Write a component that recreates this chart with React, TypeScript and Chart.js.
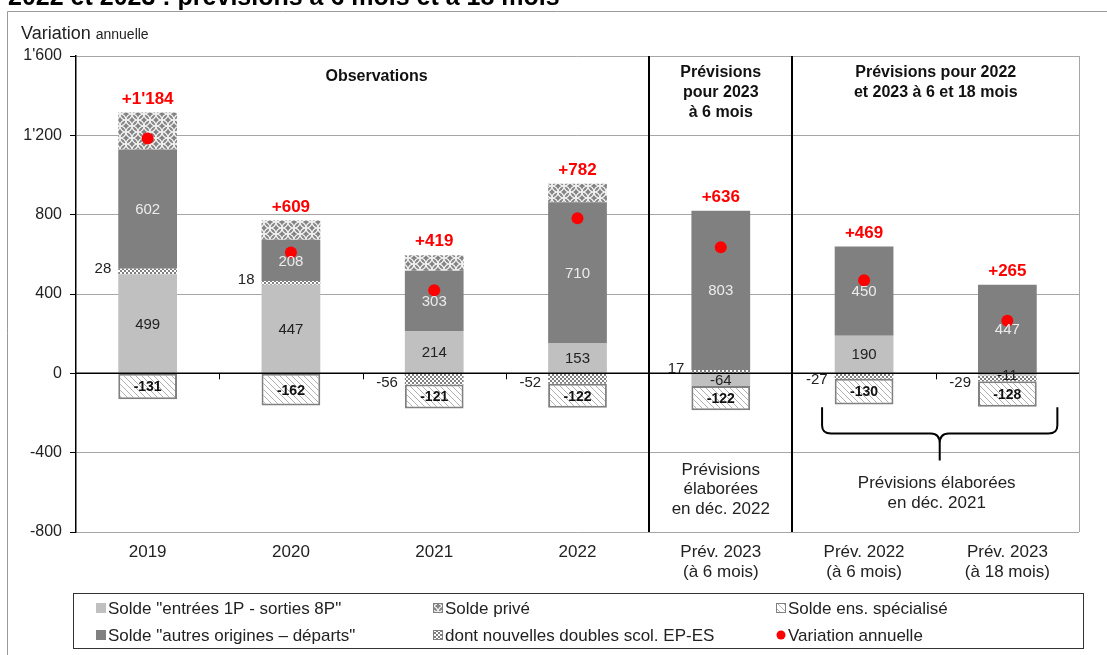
import React, { useEffect, useRef } from 'react';
import { Chart, registerables } from 'chart.js';
Chart.register(...registerables);

const FONT = "'Liberation Sans', Arial, sans-serif";

const categories = [
  '2019',
  '2020',
  '2021',
  '2022',
  ['Prév. 2023', '(à 6 mois)'],
  ['Prév. 2022', '(à 6 mois)'],
  ['Prév. 2023', '(à 18 mois)'],
];

const entrees = [499, 447, 214, 153, -64, 190, -11];
const doubles = [28, 18, -56, -52, 17, -27, -29];
const autres = [602, 208, 303, 710, 803, 450, 447];
const prive = [186, 98, 79, 93, 0, 0, 0];
const specialise = [-131, -162, -121, -122, -122, -130, -128];
const variation = [1184, 609, 419, 782, 636, 469, 265];

const yTicks = [1600, 1200, 800, 400, 0, -400, -800];

const labelEntrees = 'Solde "entrées 1P - sorties 8P"';
const labelAutres = 'Solde "autres origines – départs"';
const labelPrive = 'Solde privé';
const labelDoubles = 'dont nouvelles doubles scol. EP-ES';
const labelSpecialise = 'Solde ens. spécialisé';
const labelVariation = 'Variation annuelle';

const title = '2022 et 2023 : prévisions à 6 mois et à 18 mois';

function fmt(v: number): string {
  const a = Math.abs(Math.round(v));
  const s = a >= 1000 ? Math.floor(a / 1000) + "'" + String(a % 1000).padStart(3, '0') : String(a);
  return (v < 0 ? '-' : '') + s;
}

export default function App() {
  const ref = useRef<HTMLCanvasElement>(null);

  useEffect(() => {
    const canvas = ref.current!;
    const mainCtx = canvas.getContext('2d')!;
    const makePat = (w: number, h: number, draw: (g: CanvasRenderingContext2D) => void) => {
      const c = document.createElement('canvas');
      c.width = w;
      c.height = h;
      const g = c.getContext('2d')!;
      draw(g);
      return mainCtx.createPattern(c, 'repeat')!;
    };

    const privePat = makePat(12, 12, (g) => {
      g.fillStyle = '#858585';
      g.fillRect(0, 0, 12, 12);
      g.strokeStyle = '#F4F4F4';
      g.lineWidth = 1.2;
      const centers = [[0, 0], [12, 0], [0, 12], [12, 12], [6, 6]];
      for (const [cx, cy] of centers) {
        g.beginPath();
        g.arc(cx, cy, 6, 0, Math.PI * 2);
        g.stroke();
      }
    });
    const doublesPat = makePat(4, 4, (g) => {
      g.fillStyle = '#808080';
      g.fillRect(0, 0, 4, 4);
      g.fillStyle = '#FFFFFF';
      g.fillRect(0, 0, 2, 2);
      g.fillRect(2, 2, 2, 2);
    });
    const specPat = makePat(6, 6, (g) => {
      g.fillStyle = '#FFFFFF';
      g.fillRect(0, 0, 6, 6);
      g.strokeStyle = '#B0B0B0';
      g.lineWidth = 1;
      g.beginPath();
      g.moveTo(-1, -1); g.lineTo(7, 7);
      g.moveTo(-1, 5); g.lineTo(1, 7);
      g.moveTo(5, -1); g.lineTo(7, 1);
      g.stroke();
    });

    const overlay = {
      id: 'overlay',
      beforeDraw(chart: any) {
        const c = chart.ctx;
        c.save();
        c.fillStyle = '#fff';
        c.fillRect(0, 0, chart.width, chart.height);
        // outer frame
        c.strokeStyle = '#9A9A9A';
        c.lineWidth = 1;
        c.beginPath();
        c.moveTo(7.5, chart.height);
        c.lineTo(7.5, 11.5);
        c.lineTo(chart.width, 11.5);
        c.stroke();
        // title (cut at top)
        c.fillStyle = '#000';
        c.font = `bold 25px ${FONT}`;
        c.textAlign = 'left';
        c.textBaseline = 'alphabetic';
        c.fillText(title, 8, 5);
        // y-axis title
        c.fillStyle = '#222';
        c.font = `18px ${FONT}`;
        c.fillText('Variation', 21, 39);
        const w = c.measureText('Variation ').width;
        c.font = `14px ${FONT}`;
        c.fillText('annuelle', 21 + w, 39);
        c.restore();
      },
      afterDatasetsDraw(chart: any) {
        const c = chart.ctx;
        const ca = chart.chartArea;
        const x = chart.scales.x;
        const y = chart.scales.y;
        const y0 = y.getPixelForValue(0);
        const bound = (i: number) => (x.getPixelForValue(i) + x.getPixelForValue(i + 1)) / 2;
        c.save();
        // plot frame right
        c.strokeStyle = '#A6A6A6';
        c.lineWidth = 1;
        c.beginPath();
        c.moveTo(Math.round(ca.right) + 0.5, ca.top);
        c.lineTo(Math.round(ca.right) + 0.5, ca.bottom);
        c.stroke();
        // zero line
        c.strokeStyle = '#000';
        c.lineWidth = 1.5;
        c.beginPath();
        c.moveTo(ca.left, y0);
        c.lineTo(ca.right, y0);
        c.stroke();
        // tick marks at zero line
        c.lineWidth = 1;
        for (let i = 0; i < categories.length - 1; i++) {
          const bx = Math.round(bound(i)) + 0.5;
          c.beginPath();
          c.moveTo(bx, y0);
          c.lineTo(bx, y0 + 6);
          c.stroke();
        }
        // separators
        c.lineWidth = 2;
        for (const i of [3, 4]) {
          const bx = Math.round(bound(i));
          c.beginPath();
          c.moveTo(bx, ca.top);
          c.lineTo(bx, ca.bottom);
          c.stroke();
        }

        // bar labels
        const tops: number[] = categories.map(() => Infinity);
        chart.data.datasets.forEach((ds: any, i: number) => {
          const meta = chart.getDatasetMeta(i);
          if (meta.type !== 'bar') return;
          meta.data.forEach((el: any, j: number) => {
            const v = ds.data[j];
            if (!v) return;
            const p = el.getProps(['x', 'y', 'base', 'width'], true);
            if (v > 0) tops[j] = Math.min(tops[j], p.y);
            const cy = (p.y + p.base) / 2;
            c.textBaseline = 'middle';
            if (ds.key === 'entrees') {
              c.font = `15px ${FONT}`;
              c.fillStyle = '#222';
              c.textAlign = 'center';
              c.fillText(fmt(v), p.x, cy + 1);
            } else if (ds.key === 'autres') {
              c.font = `15px ${FONT}`;
              c.fillStyle = '#EBEBEB';
              c.textAlign = 'center';
              c.fillText(fmt(v), p.x, cy + 1);
            } else if (ds.key === 'doubles') {
              c.font = `15px ${FONT}`;
              c.fillStyle = '#222';
              c.textAlign = 'right';
              c.fillText(fmt(v), p.x - p.width / 2 - 7, cy + (v < 0 ? 4 : -3));
            } else if (ds.key === 'specialise') {
              c.font = `bold 14px ${FONT}`;
              c.fillStyle = '#111';
              c.textAlign = 'center';
              c.fillText(fmt(v), p.x, cy + 1);
            }
          });
        });
        // totals
        c.font = `bold 17px ${FONT}`;
        c.fillStyle = '#FF0000';
        c.textAlign = 'center';
        c.textBaseline = 'bottom';
        variation.forEach((v, j) => {
          c.fillText('+' + fmt(v), x.getPixelForValue(j), tops[j] - 5);
        });
        c.restore();
      },
      afterDraw(chart: any) {
        const c = chart.ctx;
        const ca = chart.chartArea;
        const x = chart.scales.x;
        const y = chart.scales.y;
        c.save();
        const midObs = (x.getPixelForValue(0) + x.getPixelForValue(3)) / 2 + 14;
        const midPrev = (x.getPixelForValue(5) + x.getPixelForValue(6)) / 2;
        const x4 = x.getPixelForValue(4);
        c.textAlign = 'center';
        c.textBaseline = 'middle';
        c.fillStyle = '#111';
        c.font = `bold 16px ${FONT}`;
        c.fillText('Observations', midObs, ca.top + 21);
        ['Prévisions', 'pour 2023', 'à 6 mois'].forEach((t, i) => c.fillText(t, x4, ca.top + 17 + i * 20));
        ['Prévisions pour 2022', 'et 2023 à 6 et 18 mois'].forEach((t, i) => c.fillText(t, midPrev, ca.top + 17 + i * 20));
        c.fillStyle = '#222';
        c.font = `17px ${FONT}`;
        ['Prévisions', 'élaborées', 'en déc. 2022'].forEach((t, i) => c.fillText(t, x4, ca.top + 414 + i * 19.5));
        ['Prévisions élaborées', 'en déc. 2021'].forEach((t, i) => c.fillText(t, midPrev + 1, ca.top + 427 + i * 20));

        // curly bracket
        const bl = x.getPixelForValue(5) - 42;
        const br = x.getPixelForValue(6) + 50;
        const bm = (bl + br) / 2;
        const yt = y.getPixelForValue(-171);
        const yh = y.getPixelForValue(-303);
        const yb = y.getPixelForValue(-440);
        c.strokeStyle = '#000';
        c.lineWidth = 2;
        c.beginPath();
        c.moveTo(bl, yt);
        c.lineTo(bl, yh - 8);
        c.quadraticCurveTo(bl, yh, bl + 9, yh);
        c.lineTo(bm - 9, yh);
        c.quadraticCurveTo(bm, yh, bm, yh + 10);
        c.lineTo(bm, yb);
        c.moveTo(br, yt);
        c.lineTo(br, yh - 8);
        c.quadraticCurveTo(br, yh, br - 9, yh);
        c.lineTo(bm + 9, yh);
        c.quadraticCurveTo(bm, yh, bm, yh + 10);
        c.stroke();

        // legend
        c.strokeStyle = '#333';
        c.lineWidth = 1;
        c.strokeRect(73.5, 593.5, 1010, 55);
        const items: any[] = [
          { label: labelEntrees, fill: '#C0C0C0', col: 0, row: 0 },
          { label: labelPrive, fill: privePat, border: true, col: 1, row: 0 },
          { label: labelSpecialise, fill: specPat, border: true, col: 2, row: 0 },
          { label: labelAutres, fill: '#808080', col: 0, row: 1 },
          { label: labelDoubles, fill: doublesPat, border: true, col: 1, row: 1 },
          { label: labelVariation, dot: true, col: 2, row: 1 },
        ];
        const colX = [96, 433, 776];
        const rowY = [608, 635];
        c.font = `17px ${FONT}`;
        c.textAlign = 'left';
        c.textBaseline = 'middle';
        for (const it of items) {
          const sx = colX[it.col];
          const sy = rowY[it.row];
          if (it.dot) {
            c.fillStyle = '#FF0000';
            c.beginPath();
            c.arc(sx + 5, sy, 4.5, 0, Math.PI * 2);
            c.fill();
          } else {
            c.fillStyle = it.fill;
            c.fillRect(sx, sy - 5, 10, 10);
            if (it.border) {
              c.strokeStyle = '#808080';
              c.strokeRect(sx + 0.5, sy - 4.5, 9, 9);
            }
          }
          c.fillStyle = '#222';
          c.fillText(it.label, sx + 12, sy + 1);
        }
        c.restore();
      },
    };

    const chart = new Chart(canvas, {
      type: 'bar',
      data: {
        labels: categories as any,
        datasets: [
          {
            type: 'line',
            key: 'variation',
            label: labelVariation,
            data: variation,
            stack: 'v',
            showLine: false,
            pointRadius: 6,
            pointHoverRadius: 6,
            pointBackgroundColor: '#FF0000',
            pointBorderWidth: 0,
            borderColor: '#FF0000',
            backgroundColor: '#FF0000',
            order: 0,
          } as any,
          { key: 'entrees', label: labelEntrees, data: entrees, backgroundColor: '#C0C0C0', stack: 'a', order: 1, borderWidth: 0 } as any,
          { key: 'doubles', label: labelDoubles, data: doubles, backgroundColor: doublesPat, stack: 'a', order: 1, borderWidth: 0 } as any,
          { key: 'autres', label: labelAutres, data: autres, backgroundColor: '#808080', stack: 'a', order: 1, borderWidth: 0 } as any,
          { key: 'prive', label: labelPrive, data: prive, backgroundColor: privePat, stack: 'a', order: 1, borderWidth: 0 } as any,
          {
            key: 'specialise',
            label: labelSpecialise,
            data: specialise,
            backgroundColor: specPat,
            borderColor: '#808080',
            borderWidth: 2,
            borderSkipped: false,
            stack: 'a',
            order: 1,
          } as any,
        ],
      },
      options: {
        responsive: false,
        animation: false,
        events: [],
        datasets: { bar: { barPercentage: 0.41, categoryPercentage: 1 } },
        layout: { padding: { top: 56, right: 28, left: 0, bottom: 0 } },
        plugins: { legend: { display: false }, tooltip: { enabled: false }, title: { display: false } },
        scales: {
          x: {
            stacked: true,
            grid: { display: false, drawTicks: false },
            border: { display: false },
            ticks: {
              color: '#222',
              font: { family: FONT, size: 17, lineHeight: 1.2 },
              padding: 10,
              maxRotation: 0,
              autoSkip: false,
            },
            afterFit: (s: any) => { s.height = 123; },
          },
          y: {
            stacked: true,
            min: -800,
            max: 1600,
            afterBuildTicks: (s: any) => { s.ticks = yTicks.map((v) => ({ value: v })); },
            ticks: {
              color: '#222',
              font: { family: FONT, size: 16 },
              padding: 8,
              callback: (v: any) => fmt(Number(v)),
            },
            grid: { color: '#A6A6A6', lineWidth: 1, tickColor: '#000', tickLength: 6, drawTicks: true },
            border: { display: true, color: '#000', width: 1.5 },
            afterFit: (s: any) => { s.width = 76; },
          },
        },
      } as any,
      plugins: [overlay],
    });
    return () => chart.destroy();
  }, []);

  return (
    <div style={{ position: 'fixed', left: 0, top: 0, width: 1107, height: 655, background: '#fff' }}>
      <canvas ref={ref} width={1107} height={655} style={{ display: 'block' }} />
    </div>
  );
}
